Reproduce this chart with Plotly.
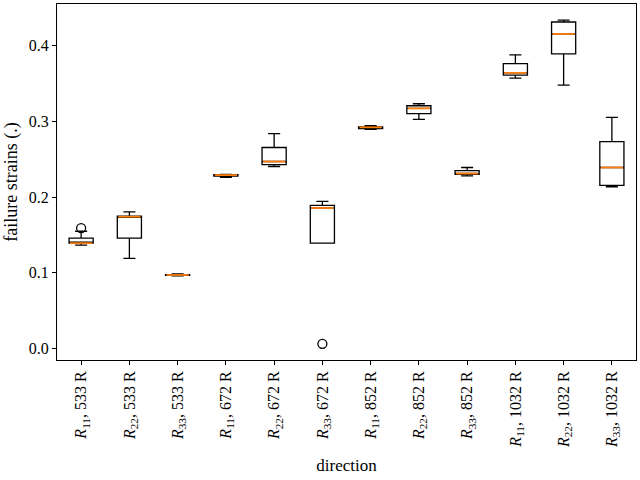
import plotly.graph_objects as go

labels = ["<i>R</i><sub>11</sub>, 533 R", "<i>R</i><sub>22</sub>, 533 R", "<i>R</i><sub>33</sub>, 533 R",
          "<i>R</i><sub>11</sub>, 672 R", "<i>R</i><sub>22</sub>, 672 R", "<i>R</i><sub>33</sub>, 672 R",
          "<i>R</i><sub>11</sub>, 852 R", "<i>R</i><sub>22</sub>, 852 R", "<i>R</i><sub>33</sub>, 852 R",
          "<i>R</i><sub>11</sub>, 1032 R", "<i>R</i><sub>22</sub>, 1032 R", "<i>R</i><sub>33</sub>, 1032 R"]
positions = list(range(1, 13))
lower = [0.1365, 0.119, 0.0960, 0.2259, 0.2403, 0.139, 0.2895, 0.3026, 0.2280, 0.357, 0.3478, 0.2136]
q1 = [0.1390, 0.1456, 0.0965, 0.2275, 0.2429, 0.139, 0.2905, 0.3101, 0.2298, 0.361, 0.3890, 0.2154]
median = [0.1390, 0.1740, 0.0970, 0.2290, 0.2469, 0.1855, 0.2921, 0.3171, 0.2310, 0.364, 0.4154, 0.2390]
q3 = [0.1456, 0.1746, 0.0975, 0.2295, 0.2654, 0.1890, 0.2925, 0.3206, 0.2350, 0.3763, 0.4312, 0.2733]
upper = [0.1548, 0.1803, 0.0985, 0.2300, 0.2838, 0.1943, 0.2943, 0.3232, 0.2390, 0.3877, 0.4337, 0.3053]
outlier_pos = [1, 6]
outlier_val = [0.159, 0.0061]

box_w = 0.5
fig = go.Figure()
fig.add_trace(go.Box(x=positions, q1=q1, median=median, q3=q3, lowerfence=lower, upperfence=upper,
                     width=box_w, whiskerwidth=0.5, boxpoints=False,
                     line=dict(color="black", width=1.3), fillcolor="rgba(255,255,255,0)",
                     showlegend=False, hoverinfo="skip"))
mx, my = [], []
for p, m in zip(positions, median):
    mx += [p - box_w / 2 + 0.02, p + box_w / 2 - 0.02, None]
    my += [m, m, None]
fig.add_trace(go.Scatter(x=mx, y=my, mode="lines", line=dict(color="#ff7f0e", width=1.8),
                         showlegend=False, hoverinfo="skip"))
fig.add_trace(go.Scatter(x=outlier_pos, y=outlier_val, mode="markers",
                         marker=dict(symbol="circle-open", size=9, color="black", line=dict(width=1.3)),
                         showlegend=False, hoverinfo="skip"))

font = "Liberation Serif, DejaVu Serif, serif"
fig.update_layout(
    width=640, height=480, margin=dict(l=57, r=4, t=4, b=120, autoexpand=False),
    plot_bgcolor="white", paper_bgcolor="white",
    font=dict(family=font, size=15, color="black"),
    xaxis=dict(range=[0.5, 12.5], tickmode="array", tickvals=positions, ticktext=labels,
               tickangle=-90, showgrid=False, zeroline=False, showline=True, mirror=True,
               linecolor="black", linewidth=1, ticks="outside", ticklen=4, tickcolor="black",
               tickfont=dict(family=font, size=16, color="black"),
               title=dict(text="direction", standoff=12,
                          font=dict(family=font, size=17, color="black")), automargin=False),
    yaxis=dict(range=[-0.0153, 0.455], tickvals=[0, 0.1, 0.2, 0.3, 0.4], tickformat=".1f",
               tickfont=dict(family=font, size=16, color="black"),
               showgrid=False, zeroline=False, showline=True, mirror=True,
               linecolor="black", linewidth=1, ticks="outside", ticklen=4, tickcolor="black",
               title=dict(text="failure strains (.)", standoff=6,
                          font=dict(family=font, size=18, color="black")), automargin=False),
)
fig.write_html("out.html")
